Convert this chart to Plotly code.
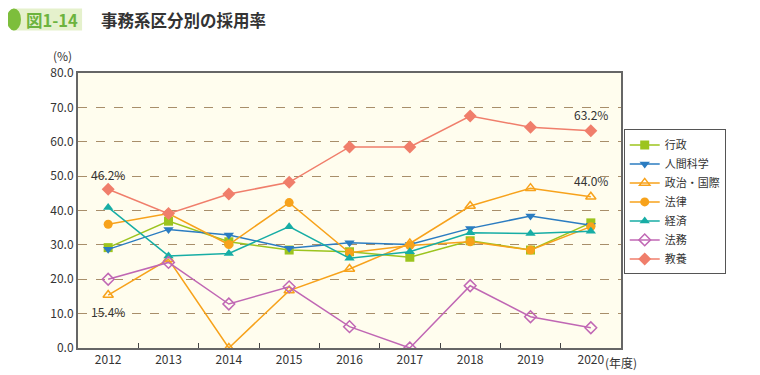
import plotly.graph_objects as go

years = ["2012", "2013", "2014", "2015", "2016", "2017", "2018", "2019", "2020"]

gyosei = [29.2, 36.9, 30.9, 28.5, 28.0, 26.4, 31.2, 28.5, 36.4]
ningen = [28.7, 34.5, 32.9, 29.0, 30.6, 30.1, 34.8, 38.4, 35.7]
seiji = [15.4, 25.8, 0.0, 16.7, 23.0, 30.4, 41.3, 46.5, 44.0]
horitsu = [36.0, 39.1, 30.1, 42.3, 27.7, 29.8, 30.9, 28.5, 35.3]
keizai = [40.9, 26.8, 27.5, 35.3, 26.1, 28.0, 33.5, 33.3, 34.0]
homu = [20.0, 24.9, 12.8, 17.8, 6.2, 0.0, 18.1, 9.1, 5.9]
kyoyo = [46.2, 39.1, 44.8, 48.2, 58.5, 58.5, 67.5, 64.2, 63.2]

yticks = [0, 10, 20, 30, 40, 50, 60, 70, 80]

series = [
    ("行政", gyosei, "#9CC41E", "square", 9),
    ("人間科学", ningen, "#2B7CC1", "triangle-down", 9),
    ("政治・国際", seiji, "#F7A21B", "triangle-up-open", 9),
    ("法律", horitsu, "#F7A21B", "circle", 9),
    ("経済", keizai, "#17ADA5", "triangle-up", 9),
    ("法務", homu, "#C067B4", "diamond-open", 9),
    ("教養", kyoyo, "#F07E6B", "diamond", 10),
]

fig = go.Figure()
for name, vals, color, sym, sz in series:
    m = dict(color=color, symbol=sym, size=sz)
    if "open" in sym:
        m["line"] = dict(color=color, width=1.5)
    fig.add_trace(go.Scatter(
        x=years, y=vals, name=name, mode="lines+markers",
        line=dict(color=color, width=1.5), marker=m,
    ))

font_family = "Noto Sans CJK JP, Noto Sans, sans-serif"

# page body has an 8px default margin; size figure to fit the window
fig.update_layout(
    width=752, height=367,
    margin=dict(l=70, r=139, t=65, b=27, autoexpand=False),
    paper_bgcolor="white",
    plot_bgcolor="#FFFDEE",
    font=dict(family=font_family, size=12, color="#333333"),
    showlegend=True,
    legend=dict(
        x=1.005, xanchor="left", y=0.795, yanchor="top",
        bgcolor="white", bordercolor="#555555", borderwidth=1,
        font=dict(size=11, color="#333333"),
        tracegroupgap=0, itemwidth=30,
    ),
    xaxis=dict(
        type="category", range=[-0.5, 8.5], automargin=False,
        showgrid=False, showline=True, linecolor="#666666", linewidth=2,
        mirror=True, ticks="inside", tickson="boundaries", ticklen=5,
        tickcolor="#444444", tickfont=dict(size=12, color="#333333"),
        zeroline=False,
    ),
    yaxis=dict(
        range=[0, 80], tickvals=yticks, tickformat=".1f", automargin=False,
        showgrid=True, gridcolor="#A88E6A", griddash="dash", gridwidth=1,
        showline=True, linecolor="#666666", linewidth=2, mirror=True,
        ticks="", tickfont=dict(size=12, color="#333333"), zeroline=False,
    ),
)

# value labels (category index positions)
labels = [
    (0, kyoyo[0], "46.2%", 15),
    (0, seiji[0], "15.4%", -16),
    (8, kyoyo[8], "63.2%", 16),
    (8, seiji[8], "44.0%", 16),
]
for xi, yv, txt, dy in labels:
    fig.add_annotation(x=xi, y=yv, xref="x", yref="y", text=txt, showarrow=False,
                       yshift=dy, font=dict(size=12, color="#333333"))

# axis unit labels
fig.add_annotation(xref="paper", yref="paper", x=-0.05, y=1.025, xanchor="left", yanchor="bottom",
                   text="(%)", showarrow=False, font=dict(size=12, color="#333333"))
fig.add_annotation(xref="x", yref="paper", x=8.2, y=-0.015, xanchor="left", yanchor="top",
                   text="(年度)", showarrow=False, font=dict(size=12, color="#333333"))

# title pill
fig.add_shape(type="rect", xref="paper", yref="paper", x0=-0.12, x1=0.0075, y0=1.155, y1=1.235,
              fillcolor="#E5F1CC", line=dict(width=0), layer="below")
fig.add_shape(type="circle", xref="paper", yref="paper", x0=-0.131, x1=-0.105, y0=1.155, y1=1.235,
              fillcolor="#7DBE3C", line=dict(width=0))
fig.add_annotation(xref="paper", yref="paper", x=-0.098, y=1.193, xanchor="left", yanchor="middle",
                   text="<b>図1-14</b>", showarrow=False, borderpad=0,
                   font=dict(size=16.5, color="#6CB33E"))
fig.add_annotation(xref="paper", yref="paper", x=0.04, y=1.193, xanchor="left", yanchor="middle",
                   text="<b>事務系区分別の採用率</b>", showarrow=False, borderpad=0,
                   font=dict(size=16.5, color="#333333"))

fig.write_html("out.html")
